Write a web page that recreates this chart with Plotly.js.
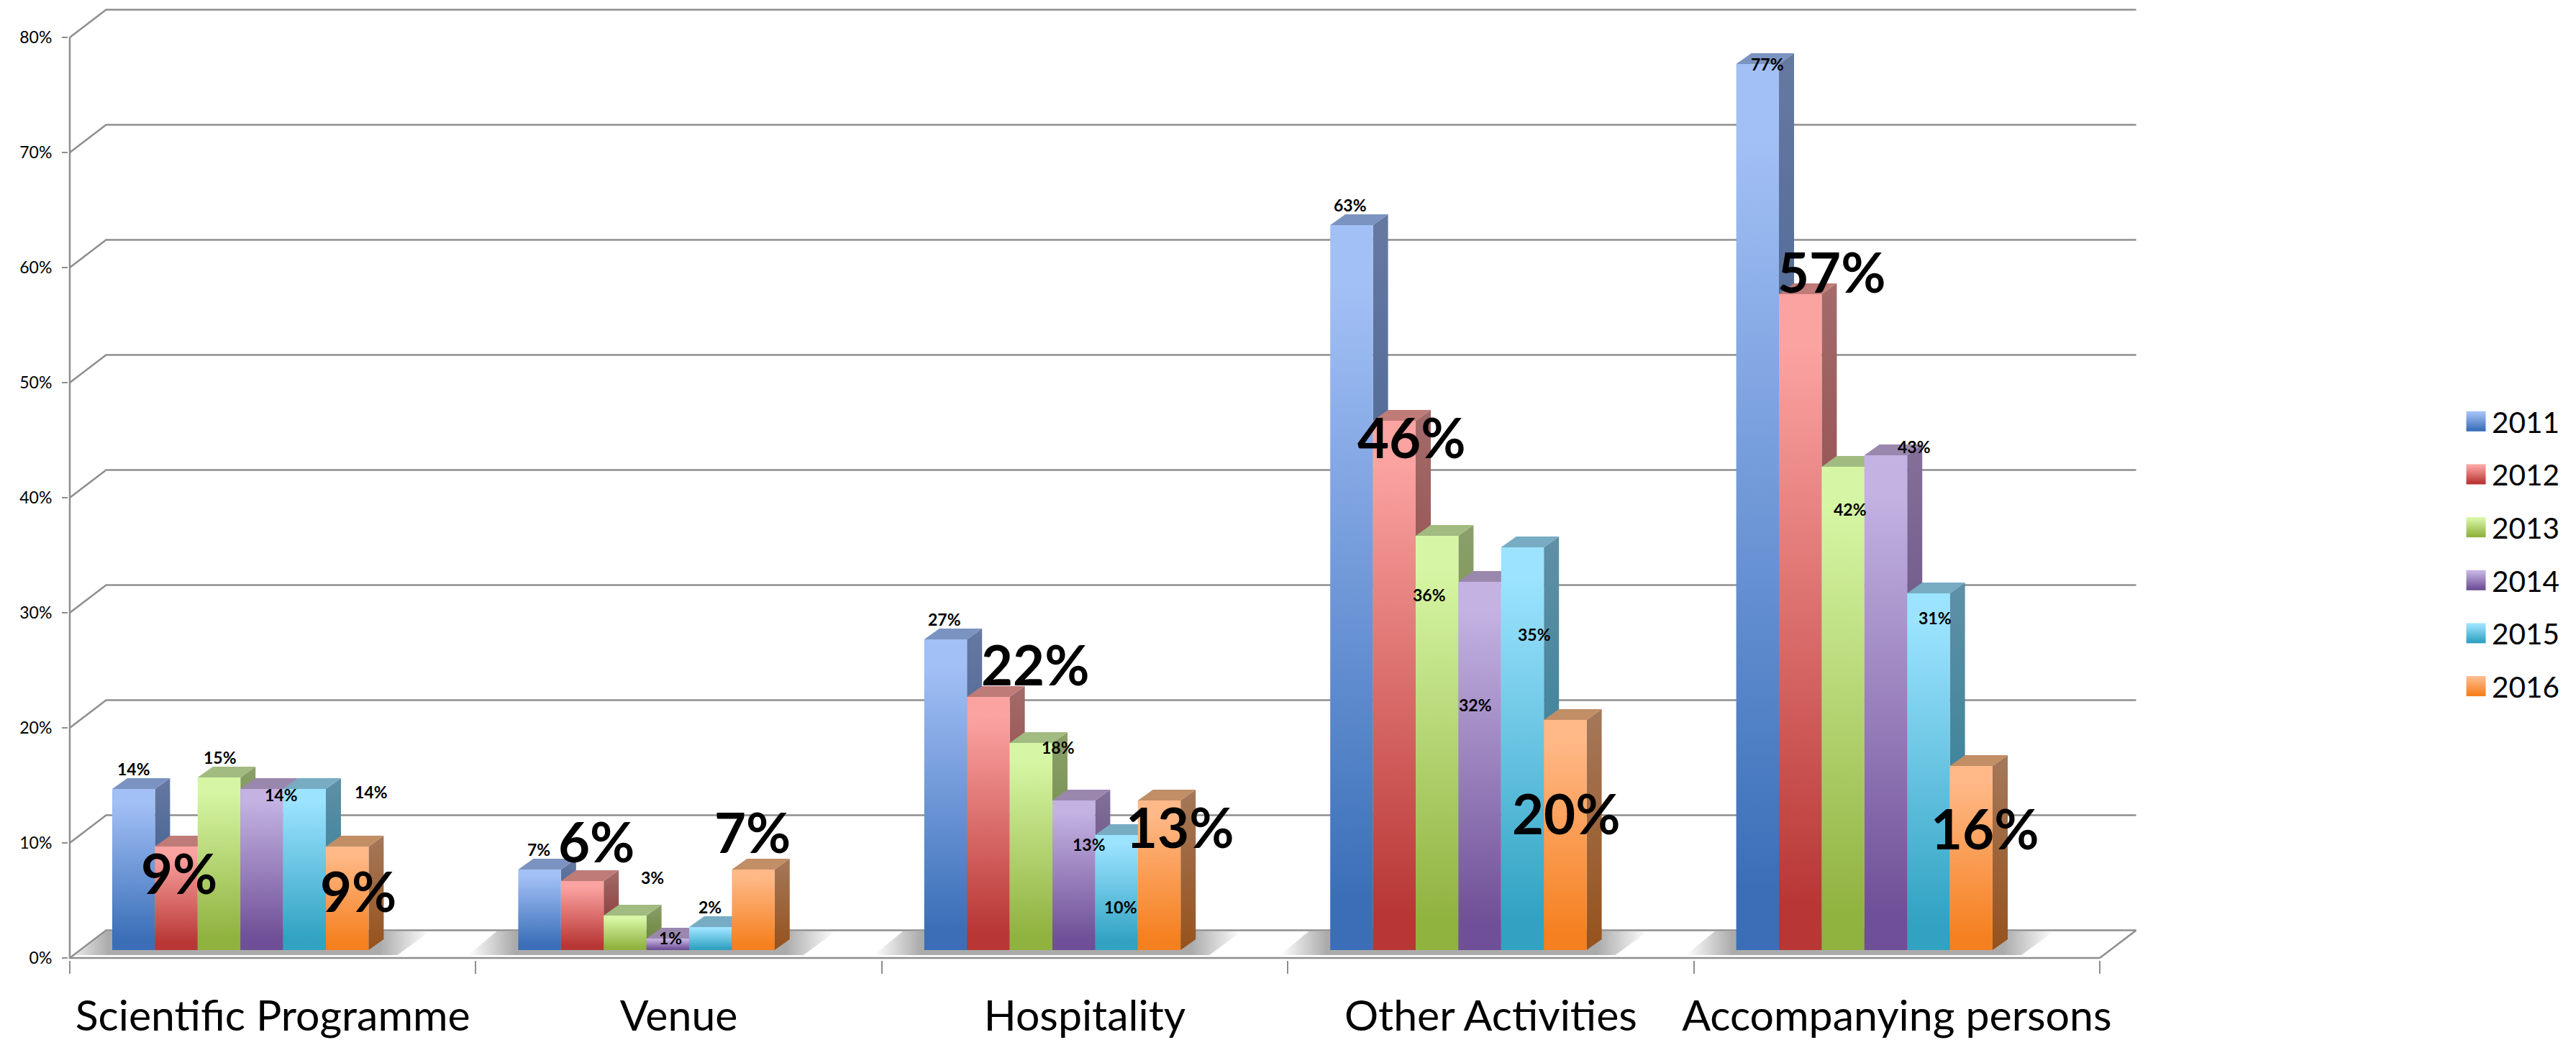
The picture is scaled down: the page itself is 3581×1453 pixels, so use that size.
<!DOCTYPE html>
<html>
<head>
<meta charset="utf-8">
<script src="https://cdn.plot.ly/plotly-3.0.1.min.js"></script>
<style>html,body{margin:0;padding:0;background:#fff}</style>
</head>
<body>
<div id="chart"></div>
<script>
// Survey results per category and year, drawn as pseudo-3D columns.
const categories = ['Scientific Programme', 'Venue', 'Hospitality', 'Other Activities', 'Accompanying persons'];
const years = ['2011', '2012', '2013', '2014', '2015', '2016'];
const values2011 = [14, 7, 27, 63, 77];
const values2012 = [9, 6, 22, 46, 57];
const values2013 = [15, 3, 18, 36, 42];
const values2014 = [14, 1, 13, 32, 43];
const values2015 = [14, 2, 10, 35, 31];
const values2016 = [9, 7, 13, 20, 16];
const seriesValues = [values2011, values2012, values2013, values2014, values2015, values2016];
const yTicks = [0, 10, 20, 30, 40, 50, 60, 70, 80];

// Colours per year: front face (top, bottom), side face (top, bottom), top face.
const frontLight = ['#a3c0f6', '#fba3a1', '#d7f6a5', '#c3b2e2', '#9be3ff', '#ffb988'];
const frontDark = ['#3a6fb8', '#b83735', '#90b23f', '#6f4f97', '#31a2c2', '#f5801f'];
const sideLight = ['#6679a1', '#a36b6a', '#8a9f6a', '#85709a', '#5f90a6', '#a5785a'];
const sideDark = ['#274f86', '#7f2725', '#648030', '#4e3670', '#227a92', '#96521c'];
const topFace = ['#7b93c0', '#bf7b78', '#a2bb80', '#9a87ae', '#77acc3', '#c18e66'];

// Label centres in page pixels, one row per category.
const labelPixels = [
  [[186, 1069], [249, 1213], [306, 1053], [391, 1105], [516, 1101], [498, 1238]],
  [[749, 1181], [829, 1169], [907, 1220], [932, 1304], [987, 1261], [1046, 1156]],
  [[1313, 861], [1439, 923], [1471, 1039], [1514, 1174], [1558, 1261], [1640, 1149]],
  [[1877, 285], [1962, 607], [1987, 827], [2051, 980], [2133, 882], [2177, 1130]],
  [[2457, 89], [2546, 377], [2572, 708], [2661, 621], [2690, 859], [2759, 1151]]
];
const bigLabelSeries = [1, 5];

// Front edge of the chart box in page pixels; the plot area is a little larger
// so the back wall, which sits up and to the right of it, stays inside.
const W = 3581, H = 1453;
const front = {left: 97, right: 2919, top: 52, bottom: 1332};
const box = {left: 95, right: 2974, top: 10, bottom: 1335};
const catPx = (front.right - front.left) / categories.length;
const pctPx = (front.bottom - front.top) / 80;
const xAt = px => (px - front.left) / catPx - 0.5;
const yAt = py => (front.bottom - py) / pctPx;

// Depth of the chart box and of the columns, in axis units.
const wallDx = 50.5 / catPx, wallDy = 38.5 / pctPx;
const barDx = 21 / catPx, barDy = 15 / pctPx;
const barW = 59.4 / catPx;
const groupInset = 59 / catPx;
const lift = 11 / pctPx;

const gridColor = '#8e8e8e';
const traces = [];

// Floor shadow beneath each column group.
categories.forEach((c, k) => {
  const start = front.left + 59 + k * catPx;
  const end = start + 6 * 59.4;
  const bl = Math.max(start - 70, front.left + 8);
  const tl = Math.max(start - 30, front.left + 50);
  const xs = [bl, tl, end + 85, end + 40, bl].map(xAt);
  const ys = [1328, 1295, 1295, 1328, 1328].map(yAt);
  const from = start - 70, to = end + 85, span = to - from;
  traces.push({
    type: 'scatter', mode: 'none', x: xs, y: ys, fill: 'toself', showlegend: false, hoverinfo: 'skip',
    zorder: 0,
    fillgradient: {
      type: 'horizontal', start: xAt(from), stop: xAt(to),
      colorscale: [[0, '#ffffff'], [65 / span, '#ababab'], [(span - 70) / span, '#ababab'], [1, '#ffffff']]
    }
  });
});

// Back-wall gridlines with their diagonal returns, and the right edge of the floor.
const gx = [], gy = [];
yTicks.forEach(v => {
  gx.push(-0.5, -0.5 + wallDx, 4.5 + wallDx, null);
  gy.push(v, v + wallDy, v + wallDy, null);
});
gx.push(4.5, 4.5 + wallDx);
gy.push(0, wallDy);
traces.push({
  type: 'scatter', mode: 'lines', x: gx, y: gy, showlegend: false, hoverinfo: 'skip',
  zorder: 0, line: {color: gridColor, width: 2.5}
});

// Front edges of the box: the value axis line and the category axis line.
traces.push({
  type: 'scatter', mode: 'lines', x: [-0.5, -0.5, 4.5], y: [80, 0, 0], showlegend: false, hoverinfo: 'skip',
  zorder: 0, line: {color: gridColor, width: 2.5}
});

// Columns: each year adds its depth faces first, then its front faces on top.
years.forEach((year, s) => {
  const vals = seriesValues[s];
  const centres = vals.map((v, k) => k - 0.5 + groupInset + barW * (s + 0.5));
  const tx = [], ty = [];
  vals.forEach((v, k) => {
    const l = centres[k] - barW / 2, r = centres[k] + barW / 2, t = v + lift;
    tx.push(l, l + barDx, r + barDx, r, l, null);
    ty.push(t, t + barDy, t + barDy, t, t, null);
    traces.push({
      type: 'scatter', mode: 'none', fill: 'toself', showlegend: false, hoverinfo: 'skip',
      zorder: 2 * s + 1,
      x: [r, r + barDx, r + barDx, r, r],
      y: [t, t + barDy, lift + barDy, lift, t],
      fillgradient: {
        type: 'vertical', start: lift, stop: t + barDy,
        colorscale: [[0, sideDark[s]], [1, sideLight[s]]]
      }
    });
  });
  traces.push({
    type: 'scatter', mode: 'none', fill: 'toself', fillcolor: topFace[s], x: tx, y: ty,
    showlegend: false, hoverinfo: 'skip', zorder: 2 * s + 1
  });
  traces.push({
    type: 'bar', name: year, x: centres, y: vals, base: lift, width: barW, legendgroup: year,
    marker: {color: frontDark[s], line: {width: 0}}, zorder: 2 * s + 2,
    hovertemplate: year + ': %{y}%<extra></extra>'
  });
});

// Value labels; two of the years are set much larger.
const annotations = [];
categories.forEach((c, k) => {
  years.forEach((year, s) => {
    const big = bigLabelSeries.includes(s);
    annotations.push({
      x: xAt(labelPixels[k][s][0]), y: yAt(labelPixels[k][s][1]), xref: 'x', yref: 'y',
      text: seriesValues[s][k] + '%', showarrow: false, xanchor: 'center', yanchor: 'middle',
      font: {family: 'Lato', size: big ? 76 : 23, color: '#000', weight: 'bold'}
    });
  });
});

const layout = {
  width: W, height: H, autosize: false,
  margin: {l: box.left, r: W - box.right, t: box.top, b: H - box.bottom, pad: 0},
  paper_bgcolor: '#fff', plot_bgcolor: 'rgba(0,0,0,0)',
  barmode: 'overlay', hovermode: 'closest',
  font: {family: 'Lato', color: '#000'},
  xaxis: {
    range: [xAt(box.left), xAt(box.right)], tickmode: 'array', tickvals: categories.map((c, i) => i), ticktext: categories,
    ticks: '', showgrid: false, zeroline: false, showline: false,
    tickfont: {family: 'Lato', size: 59, color: '#000'}, ticklabelstandoff: 38,
    minor: {
      tickmode: 'array', tickvals: [-0.5, 0.5, 1.5, 2.5, 3.5, 4.5], ticks: 'outside',
      ticklen: 18, tickwidth: 2, tickcolor: gridColor, showgrid: false
    }
  },
  yaxis: {
    range: [yAt(box.bottom), yAt(box.top)], tickmode: 'array', tickvals: yTicks, ticktext: yTicks.map(v => v + '%'),
    showgrid: false, zeroline: false, showline: false,
    ticks: 'outside', ticklen: 8, tickwidth: 2, tickcolor: gridColor,
    tickfont: {family: 'Lato', size: 23, color: '#000'}, ticklabelstandoff: 9
  },
  showlegend: true,
  legend: {
    x: (3420 - box.left) / (box.right - box.left), y: (box.bottom - 553) / (box.bottom - box.top),
    xanchor: 'left', yanchor: 'top', traceorder: 'grouped', tracegroupgap: 18,
    font: {family: 'Lato', size: 40.5, color: '#000'}, bgcolor: 'rgba(0,0,0,0)', itemwidth: 34
  },
  annotations: annotations
};

// Vertical light-to-dark fills for the column fronts and legend swatches.
function applyFrontGradients(gd) {
  const svg = gd.querySelector('.main-svg');
  const defs = svg.querySelector('defs');
  const NS = 'http://www.w3.org/2000/svg';
  const byColour = {};
  const probe = document.createElement('span');
  document.body.appendChild(probe);
  years.forEach((year, s) => {
    const g = document.createElementNS(NS, 'linearGradient');
    g.setAttribute('id', 'front-' + year);
    g.setAttribute('x1', '0'); g.setAttribute('y1', '0'); g.setAttribute('x2', '0'); g.setAttribute('y2', '1');
    [[0, frontLight[s]], [0.08, frontLight[s]], [0.93, frontDark[s]], [1, frontDark[s]]].forEach(st => {
      const e = document.createElementNS(NS, 'stop');
      e.setAttribute('offset', st[0]);
      e.setAttribute('stop-color', st[1]);
      g.appendChild(e);
    });
    defs.appendChild(g);
    probe.style.color = frontDark[s];
    byColour[getComputedStyle(probe).color] = year;
  });
  probe.remove();
  gd.querySelectorAll('.point path').forEach(p => {
    const year = byColour[getComputedStyle(p).fill];
    if (year) p.style.setProperty('fill', 'url(#front-' + year + ')');
  });
  gd.querySelectorAll('.legend .traces').forEach(t => {
    const text = t.querySelector('.legendtext');
    const p = t.querySelector('.legendpoints path');
    if (!text || !p) return;
    p.setAttribute('d', 'M13.5,14H-13.5V-14H13.5Z');
    p.style.setProperty('fill', 'url(#front-' + text.textContent + ')');
    p.style.setProperty('stroke-width', '0');
  });
}

Plotly.newPlot('chart', traces, layout, {displayModeBar: false, responsive: false}).then(applyFrontGradients);
</script>
</body>
</html>
